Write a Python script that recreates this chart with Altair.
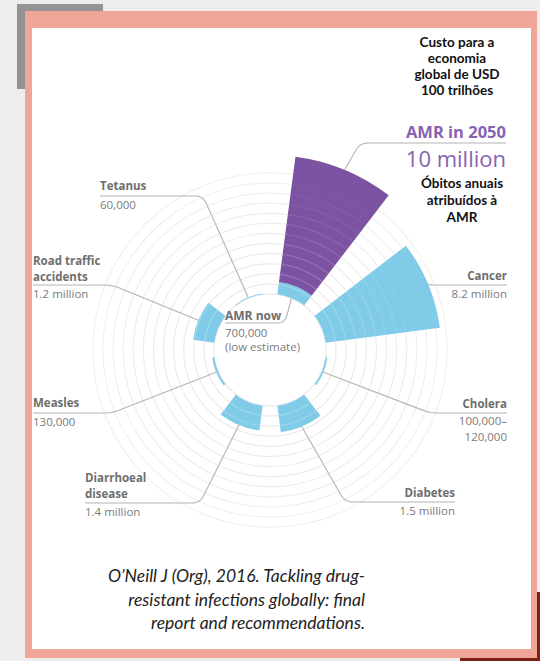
import math
import numpy as np
import pandas as pd
import altair as alt

# ------------------------------------------------------------------ data
categories = ["AMR", "Cancer", "Cholera", "Diabetes", "Diarrhoeal disease",
              "Measles", "Road traffic accidents", "Tetanus"]
annual_deaths = [10_000_000, 8_200_000, 110_000, 1_500_000, 1_400_000,
                 130_000, 1_200_000, 60_000]
amr_now_deaths = 700_000

name_labels = [["AMR in 2050"], ["Cancer"], ["Cholera"], ["Diabetes"],
               ["Diarrhoeal", "disease"], ["Measles"],
               ["Road traffic", "accidents"], ["Tetanus"]]
value_labels = [["10 million"], ["8.2 million"], ["100,000–", "120,000"],
                ["1.5 million"], ["1.4 million"], ["130,000"],
                ["1.2 million"], ["60,000"]]
amr_now_text = ["AMR now", "700,000", "(low estimate)"]
cost_text = ["Custo para a", "economia", "global de USD", "100 trilhões"]
deaths_text = ["Óbitos anuais", "atribuídos à", "AMR"]
citation = ["O’Neill J (Org), 2016. Tackling drug-",
            "resistant infections globally: final",
            "report and recommendations."]

# ------------------------------------------------------------------ layout / style
W, H = 540, 661
CX, CY = 270, 350
SECTOR, HALF_W = 45, 15
R_DOMAIN = [0, 1_500_000, 10_000_000]
R_RANGE = [56, 83, 195]

BLUE = "#80cbe8"
PURPLE = "#7c52a2"
PURPLE_TXT = "#8862b2"
GRAY_TXT = "#6e6e6e"
VAL_TXT = "#7b7b7b"
LINE_C = "#b4b4b4"

# label layout per category: anchor x, align, name y's, leader y, value y's, elbow x
label_layout = [
    dict(x=506, align="right", ny=[133], ly=143, vy=[160], ex=360),
    dict(x=507, align="right", ny=[277], ly=285, vy=[295], ex=432),
    dict(x=507, align="right", ny=[405], ly=413, vy=[422, 438], ex=430),
    dict(x=455, align="right", ny=[494], ly=502, vy=[512], ex=345),
    dict(x=85, align="left", ny=[479, 495], ly=503, vy=[513], ex=200),
    dict(x=33, align="left", ny=[404], ly=413, vy=[423], ex=112),
    dict(x=33, align="left", ny=[262, 278], ly=285, vy=[295], ex=112),
    dict(x=100, align="left", ny=[187], ly=196, vy=[206], ex=203),
]

XS = alt.Scale(domain=[0, W], nice=False, zero=False)
YS = alt.Scale(domain=[0, H], nice=False, zero=False, reverse=True)


def rad_px(v):
    return float(np.interp(v, R_DOMAIN, R_RANGE))


def polar(angle_deg, r):
    a = math.radians(angle_deg)
    return CX + r * math.sin(a), CY - r * math.cos(a)


# ------------------------------------------------------------------ frame rectangles
rects = pd.DataFrame([
    dict(x=0, x2=W, y=0, y2=H, c="#eeecec"),
    dict(x=17, x2=103, y=4, y2=89, c="#949295"),
    dict(x=460, x2=W, y=592, y2=H, c="#7a2015"),
    dict(x=25, x2=537, y=11, y2=658, c="#f1a597"),
    dict(x=32, x2=531, y=28, y2=649, c="#ffffff"),
])
rect_layer = alt.Chart(rects).mark_rect().encode(
    x=alt.X("x:Q", scale=XS, axis=None), x2="x2:Q",
    y=alt.Y("y:Q", scale=YS, axis=None), y2="y2:Q",
    color=alt.Color("c:N", scale=None), order=alt.Order("idx:Q"),
).transform_window(idx="row_number()")

# ------------------------------------------------------------------ bars
rows = []
for i, (cat, v) in enumerate(zip(categories, annual_deaths)):
    mid = SECTOR * i + SECTOR / 2
    if cat == "AMR":
        rows.append(dict(cat=cat, start=mid - HALF_W, end=mid + HALF_W, inner=0, outer=amr_now_deaths, kind="now"))
        rows.append(dict(cat=cat, start=mid - HALF_W, end=mid + HALF_W, inner=amr_now_deaths, outer=v, kind="2050"))
    else:
        rows.append(dict(cat=cat, start=mid - HALF_W, end=mid + HALF_W, inner=0, outer=v, kind="now"))
bars = pd.DataFrame(rows)

bar_layer = alt.Chart(bars).mark_arc(stroke=None).encode(
    x=alt.value(CX), y=alt.value(CY),
    theta=alt.Theta("start:Q", scale=alt.Scale(domain=[0, 360], range=[0, 2 * math.pi]), stack=None),
    theta2="end:Q",
    radius=alt.Radius("outer:Q", scale=alt.Scale(type="linear", domain=R_DOMAIN, range=R_RANGE, nice=False)),
    radius2="inner:Q",
    color=alt.Color("kind:N", scale=alt.Scale(domain=["now", "2050"], range=[BLUE, PURPLE]), legend=None),
)

# ------------------------------------------------------------------ grid rings
n_rings = 13
ring_r = [56 + 10.1 * k for k in range(n_rings)]
rings = pd.DataFrame(dict(
    ro=[r + 0.5 for r in ring_r], ri=[r - 0.5 for r in ring_r],
    op_under=[1.0 - 0.5 * k / (n_rings - 1) for k in range(n_rings)],
    op_over=[0.3 - 0.28 * k / (n_rings - 1) for k in range(n_rings)],
))


def ring_layer(color, op_field):
    return alt.Chart(rings).mark_arc(color=color, stroke=None).encode(
        x=alt.value(CX), y=alt.value(CY),
        theta=alt.value(0), theta2=alt.value(2 * math.pi),
        radius=alt.Radius("ro:Q", scale=None), radius2="ri:Q",
        opacity=alt.Opacity(f"{op_field}:Q", scale=None),
    )


rings_under = ring_layer("#e0e0e0", "op_under")
rings_over = ring_layer("#ffffff", "op_over")

# ------------------------------------------------------------------ leader lines
def leader(lid, start, elbow, end, rnd=8, steps=8):
    pts = [start]
    sx, sy = start
    ex, ey = elbow
    tx, ty = end
    d1 = math.hypot(ex - sx, ey - sy)
    d2 = math.hypot(tx - ex, ty - ey)
    r = min(rnd, d1 / 2, d2 / 2)
    if r > 0.5:
        p1 = (ex - (ex - sx) / d1 * r, ey - (ey - sy) / d1 * r)
        p2 = (ex + (tx - ex) / d2 * r, ey + (ty - ey) / d2 * r)
        for k in range(steps + 1):
            t = k / steps
            bx = (1 - t) ** 2 * p1[0] + 2 * (1 - t) * t * ex + t ** 2 * p2[0]
            by = (1 - t) ** 2 * p1[1] + 2 * (1 - t) * t * ey + t ** 2 * p2[1]
            pts.append((bx, by))
    else:
        pts.append(elbow)
    pts.append(end)
    return [dict(id=lid, seq=j, x=p[0], y=p[1]) for j, p in enumerate(pts)]


line_rows = []
for i, (v, lay) in enumerate(zip(annual_deaths, label_layout)):
    mid = SECTOR * i + SECTOR / 2
    start = polar(mid, rad_px(v))
    line_rows += leader(i, start, (lay["ex"], lay["ly"]), (lay["x"], lay["ly"]))
# AMR now leader (from inner edge of AMR sector into the centre)
line_rows += leader(99, polar(SECTOR / 2, R_RANGE[0]), (285, 323), (225, 323))
lines = pd.DataFrame(line_rows)

line_layer = alt.Chart(lines).mark_line(color=LINE_C, strokeWidth=1.1).encode(
    x=alt.X("x:Q", scale=XS, axis=None), y=alt.Y("y:Q", scale=YS, axis=None),
    detail="id:N", order="seq:Q",
)

# ------------------------------------------------------------------ texts
def text_layer(rows, align, size, color, weight="normal", style="normal", font="Open Sans"):
    df = pd.DataFrame(rows)
    return alt.Chart(df).mark_text(
        align=align, baseline="middle", fontSize=size, font=font,
        fontWeight=weight, fontStyle=style, color=color,
    ).encode(
        x=alt.X("x:Q", scale=XS, axis=None), y=alt.Y("y:Q", scale=YS, axis=None),
        text="text:N",
    )


name_rows = {"left": [], "right": []}
val_rows = {"left": [], "right": []}
for i, lay in enumerate(label_layout):
    if i == 0:
        continue
    for t, yy in zip(name_labels[i], lay["ny"]):
        name_rows[lay["align"]].append(dict(x=lay["x"], y=yy, text=t))
    for t, yy in zip(value_labels[i], lay["vy"]):
        val_rows[lay["align"]].append(dict(x=lay["x"], y=yy, text=t))

amr_lay = label_layout[0]
texts = [
    text_layer(name_rows["left"], "left", 11.5, GRAY_TXT, weight="bold"),
    text_layer(name_rows["right"], "right", 11.5, GRAY_TXT, weight="bold"),
    text_layer(val_rows["left"], "left", 11.5, VAL_TXT),
    text_layer(val_rows["right"], "right", 11.5, VAL_TXT),
    text_layer([dict(x=amr_lay["x"], y=amr_lay["ny"][0], text=name_labels[0][0])], "right", 16.5, PURPLE_TXT, weight="bold"),
    text_layer([dict(x=amr_lay["x"], y=amr_lay["vy"][0], text=value_labels[0][0])], "right", 22, PURPLE_TXT),
    text_layer([dict(x=225, y=316, text=amr_now_text[0])], "left", 12, GRAY_TXT, weight="bold"),
    text_layer([dict(x=225, y=334, text=amr_now_text[1]), dict(x=225, y=348, text=amr_now_text[2])], "left", 11.5, VAL_TXT),
    text_layer([dict(x=457, y=yy, text=t) for t, yy in zip(cost_text, [43, 59, 75, 91])], "center", 13.5, "#111111", weight="bold", font="Lato"),
    text_layer([dict(x=462, y=yy, text=t) for t, yy in zip(deaths_text, [184, 201, 218])], "center", 13.5, "#111111", weight="bold", font="Lato"),
    text_layer([dict(x=365, y=yy, text=t) for t, yy in zip(citation, [577, 601, 624])], "right", 17.5, "#222222", style="italic", font="Lato"),
]

chart = alt.layer(
    rect_layer, rings_under, bar_layer, rings_over, line_layer, *texts
).resolve_scale(
    radius="independent", theta="independent", color="independent", opacity="independent"
).properties(
    width=W, height=H, padding=0,
    autosize=alt.AutoSizeParams(type="none"),
).configure_view(stroke=None)

chart.save("out.html", embed_options={"renderer": "svg", "actions": False})
